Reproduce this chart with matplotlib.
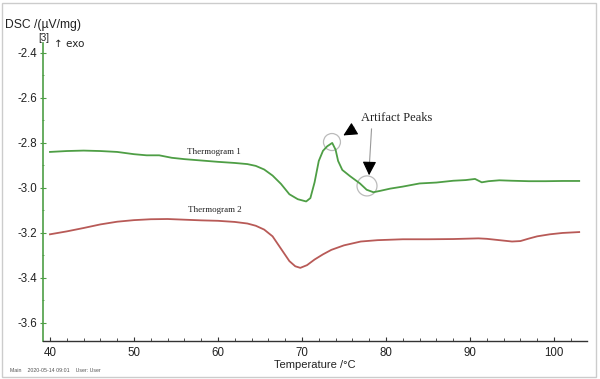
import matplotlib
matplotlib.use("Agg")
import matplotlib.pyplot as plt
from matplotlib.patches import Ellipse, Rectangle
from matplotlib.ticker import MultipleLocator, FormatStrFormatter

# Data
t1 = [40, 42, 44, 46, 48, 50, 51.5, 53, 54.5, 56, 58, 60, 62, 63.5, 64.5, 65.5,
      66.5, 67.5, 68.5, 69.5, 70.5, 71, 71.5, 72, 72.5, 73, 73.6, 74, 74.3, 74.8,
      75.7, 76.9, 77.7, 78.5, 79.3, 80.5, 82, 84, 86, 88, 89.5, 90.6, 91.4, 92.2,
      93.5, 95, 97, 99, 101, 103]
dsc1 = [-2.840, -2.836, -2.834, -2.836, -2.840, -2.850, -2.855, -2.855, -2.866, -2.872,
        -2.878, -2.884, -2.889, -2.894, -2.902, -2.918, -2.945, -2.982, -3.028, -3.050,
        -3.060, -3.045, -2.975, -2.880, -2.835, -2.815, -2.800, -2.830, -2.880, -2.920,
        -2.947, -2.980, -3.008, -3.019, -3.013, -3.003, -2.994, -2.980, -2.976, -2.968,
        -2.965, -2.960, -2.975, -2.970, -2.966, -2.968, -2.970, -2.970, -2.969, -2.969]

t2 = [40, 42, 44, 46, 48, 50, 52, 54, 56, 58, 60, 62, 63.5, 64.5, 65.5, 66.5, 67.5,
      68.5, 69.2, 69.8, 70.6, 71.5, 72.5, 73.5, 75, 77, 79, 82, 85, 88, 91, 92, 93.5,
      95, 96, 97, 98, 99.5, 101, 103]
dsc2 = [-3.206, -3.193, -3.178, -3.162, -3.150, -3.143, -3.139, -3.138, -3.141, -3.144,
        -3.146, -3.151, -3.158, -3.168, -3.185, -3.215, -3.270, -3.325, -3.348, -3.355,
        -3.343, -3.318, -3.295, -3.275, -3.255, -3.238, -3.232, -3.228, -3.228, -3.227,
        -3.224, -3.226, -3.232, -3.238, -3.236, -3.225, -3.215, -3.206, -3.200, -3.196]

labels = ["Thermogram 1", "Thermogram 2"]
green = "#4e9e45"
red = "#b85a57"

W, H = 600, 379
fig = plt.figure(figsize=(6, 3.79), dpi=100)
ax = fig.add_axes([43 / W, 1 - 341 / H, (587 - 43) / W, (341 - 43) / H])

ax.plot(t1, dsc1, color=green, lw=1.3)
ax.plot(t2, dsc2, color=red, lw=1.3)

ax.set_xlim(39.17, 103.93)
ax.set_ylim(-3.68, -2.356)

for s in ["top", "right"]:
    ax.spines[s].set_visible(False)
ax.spines["left"].set_color(green)
ax.spines["left"].set_linewidth(1.2)
ax.spines["bottom"].set_color("#333333")
ax.spines["bottom"].set_linewidth(1.0)

ax.xaxis.set_major_locator(MultipleLocator(10))
ax.xaxis.set_minor_locator(MultipleLocator(2))
ax.yaxis.set_major_locator(MultipleLocator(0.2))
ax.yaxis.set_minor_locator(MultipleLocator(0.1))
ax.yaxis.set_major_formatter(FormatStrFormatter("%.1f"))
ax.tick_params(axis="both", which="major", labelsize=8.3, width=0.8,
               colors="#333333", labelcolor="#222222",
               labelfontfamily="Liberation Sans")
ax.tick_params(axis="x", which="major", direction="in", length=3, pad=4)
ax.tick_params(axis="x", which="minor", direction="in", length=2, width=0.6,
               colors="#333333")
ax.tick_params(axis="y", which="major", direction="inout", length=4, pad=2,
               colors=green, labelcolor="#222222")
ax.tick_params(axis="y", which="minor", direction="inout", length=2, width=0.6,
               colors=green)

ax.set_xlabel("Temperature /°C", fontsize=8, family="Liberation Sans",
              color="#222222", labelpad=1)

# Curve labels
ax.text(59.5, -2.84, labels[0], fontsize=6.5, family="Liberation Serif",
        ha="center", va="center", color="#222222")
ax.text(59.6, -3.098, labels[1], fontsize=6.5, family="Liberation Serif",
        ha="center", va="center", color="#222222")

# Artifact annotation
ax.text(81.3, -2.689, "Artifact Peaks", fontsize=9, family="Liberation Serif",
        ha="center", va="center", color="#222222")
ax.add_patch(Ellipse((73.57, -2.796), 2.02, 0.0756, fill=False, ec="#bbbbbb", lw=0.9))
ax.add_patch(Ellipse((77.74, -2.991), 2.38, 0.089, fill=False, ec="#bbbbbb", lw=0.9))

# arrow 1
ax.annotate("", xy=(75.9, -2.745), xytext=(76.4, -2.72),
            arrowprops=dict(arrowstyle="-", color="#999999", lw=0.8))
ax.annotate("", xy=(74.64, -2.773), xytext=(75.9, -2.745),
            arrowprops=dict(arrowstyle="-|>,head_length=0.7,head_width=0.35",
                            color="black", lw=0.8, mutation_scale=12))
# arrow 2
ax.annotate("", xy=(78.02, -2.90), xytext=(78.3, -2.725),
            arrowprops=dict(arrowstyle="-", color="#999999", lw=0.8))
ax.annotate("", xy=(77.98, -2.956), xytext=(78.02, -2.90),
            arrowprops=dict(arrowstyle="-|>,head_length=0.7,head_width=0.35",
                            color="black", lw=0.8, mutation_scale=12))

# Header texts
def px(x, y):
    return x / W, 1 - y / H

fig.text(*px(5, 25), "DSC /(µV/mg)", fontsize=8.7, family="Liberation Sans",
         va="center", ha="left", color="#222222")
fig.text(*px(38, 38), "[3]", fontsize=7, family="Liberation Sans",
         va="center", ha="left", color="#222222")
fig.text(*px(54, 44), "↑ exo", fontsize=7.5, family="DejaVu Sans",
         va="center", ha="left", color="#222222")
fig.text(*px(10, 370), "Main    2020-05-14 09:01    User: User", fontsize=3.8,
         family="Liberation Sans", va="center", ha="left", color="#555555")

# Frame around figure
fig.patches.append(Rectangle((2 / W, 2 / H), 594 / W, 374 / H, transform=fig.transFigure,
                             fill=False, ec="#cccccc", lw=1.0))

fig.savefig("out.png", dpi=100)
